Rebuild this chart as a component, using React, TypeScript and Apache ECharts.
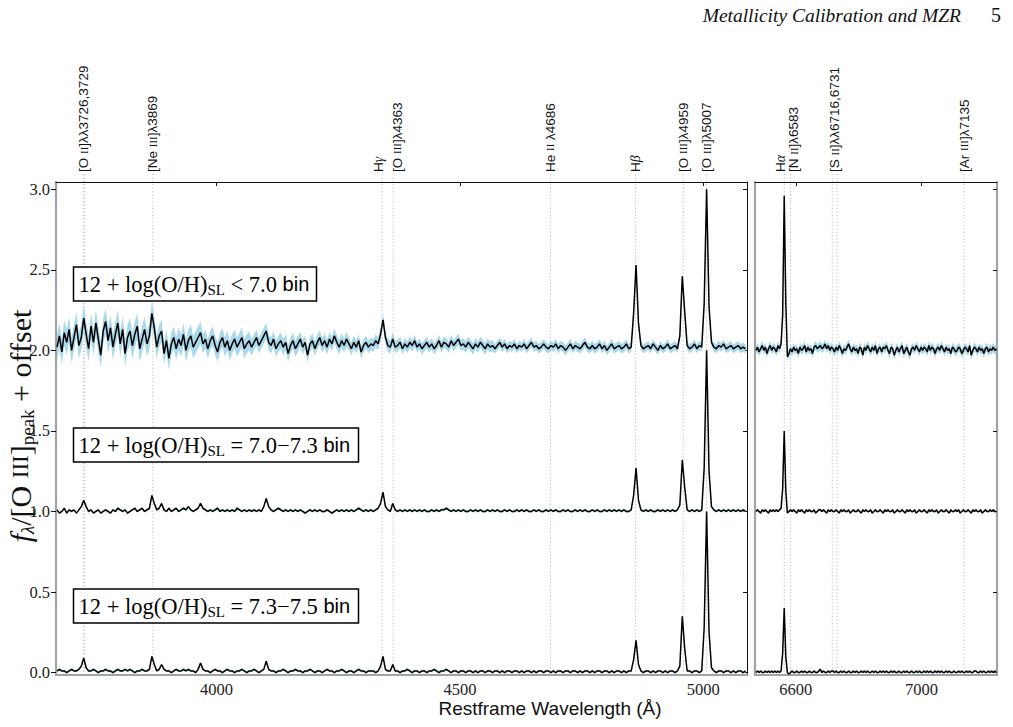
import React, { useEffect, useRef } from "react";
import * as echarts from "echarts";

// ---------------- data ----------------
const STEP = 5; // Angstrom per spectral pixel
const LEFT_START = 3672;
const RIGHT_START = 6473;
const LEFT_RANGE = [3670, 5090];
const RIGHT_RANGE = [6470, 7240];
const Y_RANGE = [-0.015, 3.045];
const yTickValues = [0, 0.5, 1, 1.5, 2, 2.5, 3];
const leftTickValues = [4000, 4500, 5000];
const rightTickValues = [6600, 7000];
const offsets = [2, 1, 0];
const binNames = ["< 7.0", "= 7.0\u22127.3", "= 7.3\u22127.5"];

// 12+log(O/H) < 7.0 bin (normalised flux, no offset)
const specLowLeft = [
  .02, .09, -.01, .11, .05, .13, .00, .08, .16, .03,
  .08, .20, .10, .01, .15, .05, .17, .07, -.03, .12,
  .18, .06, .14, .02, .10, .17, .04, .13, -.02, .08,
  .12, .03, .10, .15, .01, .07, .13, .04, .09, .23,
  .14, .02, .09, .12, -.02, .06, -.05, .04, .08, .01,
  .07, .03, .10, .00, .06, .09, .02, .05, .08, .11,
  .04, .07, .01, .06, .09, .03, -.01, .05, .08, .02,
  .06, .00, .04, .07, .02, .05, .08, .01, .04, .06,
  .02, .05, .08, .03, .06, .09, .12, .05, .03, .07,
  .01, .04, .06, .02, .05, -.02, .03, .06, .01, .04,
  .07, .02, .05, -.03, .04, .06, .01, .05, .08, .03,
  .06, .02, .07, .04, .09, .05, .02, .06, .03, .07,
  .04, .01, .05, .02, .06, -.01, .03, .05, .02, .04,
  .03, .06, .04, .10, .19, .08, .03, .02, .07, .02,
  .03, .05, .01, .04, .02, .05, .03, .06, .02, .04,
  .01, .03, .05, .02, .04, .01, .03, .06, .02, .05,
  .04, .02, .06, .03, .05, .07, .03, .04, .02, .05,
  .03, .01, .04, .02, .05, .03, .01, .04, .02, .03,
  .01, .03, .05, .02, .04, .01, .03, .02, .04, .01,
  .03, .02, .04, .01, .03, .05, .02, .03, .01, .02,
  .04, .02, .01, .03, .02, .04, .01, .03, .02, .00,
  .02, .04, .01, .03, .02, .01, .03, .05, .02, .01,
  .03, .01, .02, .04, .01, .03, .00, .02, .04, .01,
  .02, .03, .01, .02, .04, .01, .02, .23, .53, .17,
  .03, .01, .02, .03, .01, .04, .02, .00, .03, .01,
  .02, .04, .01, .02, .03, .01, .09, .46, .24, .03,
  .01, .02, .04, .01, .03, .02, .29, 1.00, .27, .05,
  .02, .01, .03, .02, .04, .01, .02, .03, .01, .02,
  .03, .01, .02, .01,
];
const specLowRight = [
  .00, .02, -.01, .01, .03, .00, .02, -.02, .01, .03,
  .00, .02, .01, -.01, .03, .01, .04, .22, .96, .30,
  -.04, -.02, .01, -.01, .02, .00, .01, -.02, .02, .00,
  .01, .03, -.01, .02, .00, .01, -.02, .02, .03, .01,
  .02, .03, .01, .02, .04, .01, .03, .00, .02, .01,
  -.01, .02, .00, .03, .01, -.02, .01, .00, .02, .04,
  .01, -.01, .02, .00, .01, -.02, .02, .01, -.03, .02,
  .00, .03, .01, -.01, .02, .00, .03, -.02, .01, .02,
  -.01, .02, .01, .03, .00, -.02, .02, .01, -.03, .00,
  .02, -.01, .01, .03, -.02, .00, .02, -.01, -.03, .01,
  .02, .00, .03, .01, -.01, .02, .00, .02, .01, -.01,
  .03, .00, .02, .01, -.02, .01, .02, .00, .03, .01,
  -.01, .02, .00, .01, -.02, .02, .01, -.01, .00, .02,
  .01, -.02, .00, .02, .01, -.01, .03, -.03, .00, .02,
  .01, -.01, .02, .00, .01, -.02, .01, .02, -.01, .01,
  .00, .02, .00, .01,
];
// 1-sigma of the < 7.0 bin, one value per 100 A
const errLowLeftBins = [.08, .08, .07, .06, .05, .045, .04, .035, .035, .03, .03, .03, .028, .028, .028];
const errLowRightBins = [.028, .028, .028, .028, .028, .028, .028, .028];

// 12+log(O/H) = 7.0-7.3 bin
const specMidLeft = [
  .01, -.01, .00, .02, -.01, .01, .00, .01, -.01, .01,
  .03, .07, .03, .00, .01, -.01, .00, .01, -.01, .00,
  .01, .00, -.01, .01, .00, .02, .01, .00, .01, -.01,
  .00, .01, .02, .00, .01, .02, .00, .01, .02, .10,
  .05, .01, .02, .05, .01, .00, .02, .00, .01, .02,
  .00, .01, .02, .01, .03, .01, .00, .01, .02, .05,
  .02, .01, .00, .01, .00, .01, .02, .00, .01, .00,
  .01, .00, .01, .00, .02, .01, .00, .01, .00, .01,
  .00, .01, .00, .01, .00, .03, .08, .03, .01, .00,
  .01, .02, .01, .00, .01, .00, .01, .00, .01, .00,
  .01, .00, -.01, .00, .01, .00, .01, .00, .01, .00,
  .00, .01, .00, -.01, .00, .01, .00, .01, .00, .01,
  .00, .01, .00, .01, .02, .01, .00, .01, .00, .01,
  .00, .01, .02, .05, .12, .03, .01, .00, .05, .01,
  .00, .01, .00, .01, .00, .01, .00, .01, .00, .01,
  .00, .01, .00, .00, .01, .00, .01, .00, .01, .01,
  .02, .01, .00, .01, .00, .01, .00, .01, .00, .00,
  .01, .00, .01, .00, .01, .00, .00, .01, .00, .01,
  .00, .01, .00, .00, .01, .00, .01, .00, .00, .01,
  .00, .01, .00, .01, .00, .00, .01, .00, .01, .00,
  .00, .01, .00, .01, .00, .01, .00, .00, .01, .00,
  .01, .00, .00, .01, .00, .01, .00, .01, .00, .00,
  .01, .00, .01, .00, .00, .01, .00, .01, .00, .01,
  .00, .01, .00, .01, .00, .00, .01, .10, .27, .07,
  .01, .00, .01, .00, .01, .00, .00, .01, .00, .01,
  .00, .01, .00, .01, .00, .01, .04, .32, .15, .01,
  .00, .01, .00, .01, .00, .01, .27, 1.00, .25, .03,
  .01, .00, .01, .00, .01, .00, .01, .00, .01, .00,
  .01, .00, .01, .00,
];
const specMidRight = [
  .00, .01, .00, -.01, .01, .00, .01, .00, -.01, .01,
  .00, .01, .00, .01, .00, .01, .02, .14, .50, .13,
  -.01, .00, .01, .00, .01, .00, -.01, .01, .00, .01,
  .00, -.01, .01, .00, .01, .00, .00, .01, -.01, .00,
  .01, .01, .00, .01, .00, -.01, .01, .00, .01, .00,
  .00, .01, .00, -.01, .01, .00, .01, .00, .00, .01,
  -.01, .00, .01, .00, .00, .01, .00, -.01, .01, .00,
  .01, .00, .00, .01, -.01, .00, .01, .00, .00, .01,
  .00, -.01, .01, .00, .01, .00, .00, .01, -.01, .00,
  .01, .00, .00, .01, .00, -.01, .01, .00, .01, .00,
  .00, .01, -.01, .00, .01, .00, .00, .01, .00, -.01,
  .01, .00, .01, .00, .00, .01, -.01, .00, .01, .00,
  .00, .01, .00, -.01, .01, .00, .00, .01, .00, .01,
  -.01, .00, .01, .00, .00, .01, .00, -.01, .01, .00,
  .01, .00, .00, .01, -.01, .00, .01, .00, .00, .01,
  .00, .01, .00, .00,
];

// 12+log(O/H) = 7.3-7.5 bin
const specHighLeft = [
  .01, .02, .01, .01, .00, .01, .02, .01, .01, .02,
  .04, .09, .03, .01, .01, .02, .01, .00, .01, .01,
  .02, .01, .01, .00, .01, .02, .01, .01, .02, .01,
  .02, .01, .00, .01, .01, .02, .01, .01, .02, .10,
  .05, .01, .02, .05, .02, .01, .01, .00, .01, .02,
  .01, .01, .02, .01, .02, .01, .01, .00, .02, .06,
  .02, .01, .01, .00, .01, .02, .01, .01, .00, .01,
  .02, .01, .01, .00, .01, .01, .02, .01, .00, .01,
  .01, .02, .01, .00, .01, .02, .07, .02, .01, .01,
  .00, .01, .01, .02, .01, .00, .01, .01, .02, .01,
  .01, .00, .01, .01, .02, .01, .00, .01, .01, .00,
  .01, .02, .01, .01, .00, .01, .01, .02, .01, .00,
  .01, .01, .00, .01, .02, .01, .01, .00, .01, .01,
  .01, .00, .01, .04, .10, .02, .01, .01, .05, .01,
  .01, .00, .01, .01, .02, .01, .00, .01, .01, .00,
  .01, .01, .00, .01, .01, .02, .01, .00, .01, .01,
  .02, .01, .00, .01, .01, .00, .01, .01, .00, .01,
  .01, .00, .01, .00, .01, .01, .00, .01, .01, .00,
  .01, .01, .00, .01, .00, .01, .01, .00, .01, .01,
  .00, .01, .00, .01, .01, .00, .01, .00, .01, .01,
  .00, .01, .01, .00, .01, .00, .01, .01, .00, .01,
  .01, .00, .01, .01, .00, .01, .00, .01, .01, .00,
  .01, .00, .01, .01, .00, .01, .01, .00, .01, .00,
  .01, .01, .00, .01, .00, .01, .01, .08, .20, .05,
  .01, .00, .01, .01, .00, .01, .00, .01, .01, .00,
  .01, .00, .01, .01, .00, .01, .04, .35, .15, .01,
  .01, .00, .01, .01, .00, .01, .28, 1.00, .25, .03,
  .01, .00, .01, .01, .00, .01, .01, .00, .01, .00,
  .01, .01, .00, .01,
];
const specHighRight = [
  .00, .01, .00, .01, .00, .00, .01, .00, .01, .00,
  .01, .00, .01, .00, .01, .00, .01, .12, .40, .10,
  .00, -.01, .00, .01, .00, .00, .01, .00, .00, .01,
  .00, .01, .00, .00, .01, .00, .00, .01, .00, .00,
  .01, .02, .00, .01, .00, .00, .01, .00, .01, .01,
  .00, .01, .00, .00, .01, .00, .01, .00, .00, .01,
  .00, .00, .01, .00, .01, .00, .00, .01, .00, .01,
  .00, .01, .00, .00, .01, .00, .01, .00, .00, .01,
  .00, .01, .00, .01, .00, .00, .01, .00, .01, .00,
  .00, .01, .00, .00, .01, .00, .01, .00, .00, .01,
  .00, .00, .01, .00, .01, .00, .00, .01, .00, .01,
  .00, .01, .00, .00, .01, .00, .01, .00, .01, .00,
  .00, .01, .00, .01, .00, .00, .01, .00, .00, .01,
  .00, .01, .00, .00, .01, .00, .01, .00, .00, .01,
  .01, .00, .00, .01, .00, .01, .00, .00, .01, .00,
  .01, .00, .01, .00,
];
const errFaint = 0.008;

// emission lines marked with dotted lines
const lineWaves = [3726, 3729, 3869, 4340, 4363, 4686, 4861, 4959, 5007, 6563, 6583, 6716, 6731, 7135];
const labelTexts = [
  "{n|[O }{r|II}{n|]\u03bb\u03bb3726,3729}",
  "{n|[Ne }{r|III}{n|]\u03bb3869}",
  "{n|H}{g|\u03b3}",
  "{n|[O }{r|III}{n|]\u03bb4363}",
  "{n|He }{r|II}{n| \u03bb4686}",
  "{n|H}{g|\u03b2}",
  "{n|[O }{r|III}{n|]\u03bb4959}",
  "{n|[O }{r|III}{n|]\u03bb5007}",
  "{n|H}{g|\u03b1}",
  "{n|[N }{r|II}{n|]\u03bb6583}",
  "{n|[S }{r|II}{n|]\u03bb\u03bb6716,6731}",
  "{n|[Ar }{r|III}{n|]\u03bb7135}",
];
const labelWaves = [3727.5, 3869, 4340, 4363, 4686, 4861, 4959, 5007, 6563, 6583, 6723.5, 7135];

// ---------------- styling ----------------
const SERIF = "'Liberation Serif', 'DejaVu Serif', serif";
const SANS = "'Liberation Sans', 'DejaVu Sans', sans-serif";
const labelNudge = [0, 0, -4, 4, 0, 0, 0, 0, -4, 3, 0, 0];
const SPINE_GREY = "#a3a3a3";
const BAND_BLUE = "#a9d9ea";

function buildSeries() {
  const series: any[] = [];
  const panels = [
    { start: LEFT_START, axis: 0, specs: [specLowLeft, specMidLeft, specHighLeft], errBins: errLowLeftBins },
    { start: RIGHT_START, axis: 2, specs: [specLowRight, specMidRight, specHighRight], errBins: errLowRightBins },
  ];
  panels.forEach((p) => {
    p.specs.forEach((flux, si) => {
      const off = offsets[si];
      const err = (i: number) =>
        si === 0 ? p.errBins[Math.min(p.errBins.length - 1, Math.floor((i * STEP) / 100))] : errFaint;
      const wave = (i: number) => p.start + i * STEP;
      const upper = flux.map((f, i) => [wave(i), f + off + err(i)]);
      const lower = flux.map((f, i) => [wave(i), f + off - err(i)]);
      // error band polygon (drawn through the cartesian coordinate system)
      series.push({
        type: "custom", xAxisIndex: p.axis, yAxisIndex: p.axis, silent: true, z: 2, clip: true,
        data: [[wave(0), flux[0] + off]],
        renderItem: (params: any, api: any) => {
          const pts: number[][] = [];
          upper.forEach((d) => pts.push(api.coord(d)));
          for (let k = lower.length - 1; k >= 0; k--) pts.push(api.coord(lower[k]));
          return { type: "polygon", shape: { points: pts }, style: { fill: BAND_BLUE, stroke: "none" } };
        },
      });
      series.push({
        type: "line", xAxisIndex: p.axis, yAxisIndex: p.axis,
        data: flux.map((f, i) => [wave(i), f + off]),
        symbol: "none", silent: true, lineStyle: { color: "#000", width: 1.5 }, z: 3,
      });
    });
  });
  return series;
}

function xAxes() {
  const mk = (grid: number, range: number[], ticks: number[], bottom: boolean) => ({
    type: "value", gridIndex: grid, min: range[0], max: range[1], position: bottom ? "bottom" : "top",
    axisLine: { show: true, onZero: false, lineStyle: bottom ? { color: SPINE_GREY, width: 2.2 } : { color: "#111", width: 1 } },
    axisTick: { show: !bottom, inside: true, length: 4, customValues: ticks, lineStyle: { color: "#111" } },
    axisLabel: bottom
      ? { show: true, customValues: ticks, fontFamily: SERIF, fontSize: 16.5, color: "#222", margin: 6, formatter: (v: number) => String(v) }
      : { show: false },
    splitLine: { show: false },
  });
  return [
    mk(0, LEFT_RANGE, leftTickValues, true),
    mk(0, LEFT_RANGE, leftTickValues, false),
    mk(1, RIGHT_RANGE, rightTickValues, true),
    mk(1, RIGHT_RANGE, rightTickValues, false),
  ];
}

function yAxes() {
  const base = (grid: number, pos: string) => ({
    type: "value", gridIndex: grid, min: Y_RANGE[0], max: Y_RANGE[1], position: pos,
    splitLine: { show: false },
  });
  return [
    {
      ...base(0, "left"),
      axisLine: { show: true, onZero: false, lineStyle: { color: SPINE_GREY, width: 2.2 } },
      axisTick: { show: true, inside: false, length: 5, customValues: yTickValues, lineStyle: { color: "#111" } },
      axisLabel: { show: true, customValues: yTickValues, fontFamily: SERIF, fontSize: 16.5, color: "#222", margin: 6, formatter: (v: number) => v.toFixed(1) },
    },
    {
      ...base(0, "right"),
      axisLine: { show: true, onZero: false, lineStyle: { color: "#111", width: 1 } },
      axisTick: { show: true, inside: true, length: 4, customValues: yTickValues, lineStyle: { color: "#111" } },
      axisLabel: { show: false },
    },
    {
      ...base(1, "left"),
      axisLine: { show: true, onZero: false, lineStyle: { color: SPINE_GREY, width: 2.2 } },
      axisTick: { show: false },
      axisLabel: { show: false },
    },
    {
      ...base(1, "right"),
      axisLine: { show: true, onZero: false, lineStyle: { color: SPINE_GREY, width: 2.2 } },
      axisTick: { show: true, inside: true, length: 4, customValues: yTickValues, lineStyle: { color: "#111" } },
      axisLabel: { show: false },
    },
  ];
}

export default function App() {
  const ref = useRef<HTMLDivElement>(null);
  useEffect(() => {
    document.body.style.margin = "0";
    const chart = echarts.init(ref.current!, null, { renderer: "svg" });
    chart.setOption({
      animation: false,
      backgroundColor: "#fff",
      grid: [
        { left: 56, right: 266, top: 182, bottom: 52 },
        { left: 755, right: 16, top: 182, bottom: 52 },
      ],
      xAxis: xAxes(),
      yAxis: yAxes(),
      series: buildSeries(),
    });

    const px = (panel: number, w: number) => chart.convertToPixel({ xAxisIndex: panel === 0 ? 0 : 2 }, w) as number;
    const py = (v: number) => chart.convertToPixel({ yAxisIndex: 0 }, v) as number;
    const plotTop = py(Y_RANGE[1]);
    const plotBottom = py(Y_RANGE[0]);
    const labelBase = plotTop - 10;

    const elements: any[] = [];
    lineWaves.forEach((w) => {
      const x = px(w < 6000 ? 0 : 1, w);
      elements.push({
        type: "line", silent: true, z: 0,
        shape: { x1: x, y1: plotBottom, x2: x, y2: labelBase + 1 },
        style: { stroke: "#bdbdbd", lineWidth: 1, lineDash: [1.2, 2.2] },
      });
    });
    labelTexts.forEach((t, k) => {
      const w = labelWaves[k];
      const x = px(w < 6000 ? 0 : 1, w) + labelNudge[k];
      elements.push({
        type: "text", silent: true, z: 5, x, y: labelBase, rotation: Math.PI / 2,
        style: {
          text: t, align: "left", verticalAlign: "middle", fill: "#111",
          fontFamily: SANS, fontSize: 13.5,
          rich: {
            n: { fontFamily: SANS, fontSize: 13.5, fill: "#111" },
            r: { fontFamily: SERIF, fontSize: 11, fill: "#111" },
            g: { fontFamily: SERIF, fontSize: 14, fontStyle: "italic", fill: "#111" },
          },
        },
      });
    });

    const boxes = [
      { x: 73.5, y: 267, w: 243 },
      { x: 73.5, y: 428, w: 285 },
      { x: 73.5, y: 589, w: 285 },
    ];
    boxes.forEach((b, k) => {
      elements.push({
        type: "rect", silent: true, z: 10,
        shape: { x: b.x, y: b.y, width: b.w, height: 34 },
        style: { fill: "#fff", stroke: "#000", lineWidth: 1.5 },
      });
      elements.push({
        type: "text", silent: true, z: 11, x: b.x + 5, y: b.y + 17,
        style: {
          text: "{m|12 + log(O/H)}{s|SL}{m| " + binNames[k] + " }{b|bin}",
          align: "left", verticalAlign: "middle", fill: "#000",
          fontFamily: SERIF, fontSize: 22,
          rich: {
            m: { fontFamily: SERIF, fontSize: 22.5, lineHeight: 26, verticalAlign: "middle", fill: "#000" },
            s: { fontFamily: SERIF, fontSize: 15, lineHeight: 14, verticalAlign: "bottom", fill: "#000" },
            b: { fontFamily: SANS, fontSize: 20, lineHeight: 26, verticalAlign: "middle", fill: "#000" },
          },
        },
      });
    });

    // axis titles
    elements.push({
      type: "text", silent: true, z: 5, x: 550, y: 708,
      style: { text: "Restframe Wavelength (\u00c5)", align: "center", verticalAlign: "middle", fill: "#111", fontFamily: SANS, fontSize: 19 },
    });
    elements.push({
      type: "text", silent: true, z: 5, x: 20, y: 426, rotation: Math.PI / 2,
      style: {
        text: "{i|f}{sl|\u03bb}{m|/[O }{sc|III}{m|]}{sp|peak}{m| + offset}",
        align: "center", verticalAlign: "middle", fill: "#111", fontFamily: SERIF, fontSize: 30,
        rich: {
          i: { fontFamily: SERIF, fontSize: 30, fontStyle: "italic", lineHeight: 34, verticalAlign: "middle", fill: "#111" },
          m: { fontFamily: SERIF, fontSize: 30, lineHeight: 34, verticalAlign: "middle", fill: "#111" },
          sc: { fontFamily: SERIF, fontSize: 23, lineHeight: 34, verticalAlign: "middle", fill: "#111" },
          sl: { fontFamily: SERIF, fontSize: 19, fontStyle: "italic", lineHeight: 17, verticalAlign: "bottom", fill: "#111" },
          sp: { fontFamily: SERIF, fontSize: 19, lineHeight: 17, verticalAlign: "bottom", fill: "#111" },
        },
      },
    });
    // page header
    elements.push({
      type: "text", silent: true, z: 5, x: 961, y: 15,
      style: { text: "Metallicity Calibration and MZR", align: "right", verticalAlign: "middle", fill: "#111", fontFamily: SERIF, fontSize: 19.5, fontStyle: "italic" },
    });
    elements.push({
      type: "text", silent: true, z: 5, x: 1001, y: 15,
      style: { text: "5", align: "right", verticalAlign: "middle", fill: "#111", fontFamily: SERIF, fontSize: 20 },
    });

    chart.setOption({ graphic: { elements } });
    return () => chart.dispose();
  }, []);
  return <div ref={ref} style={{ width: 1013, height: 727 }} />;
}
